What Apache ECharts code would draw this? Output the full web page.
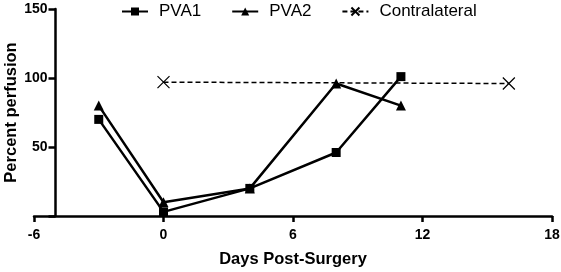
<!DOCTYPE html>
<html>
<head>
<meta charset="utf-8">
<script src="https://cdn.jsdelivr.net/npm/echarts@6/dist/echarts.min.js"></script>
<style>
html, body { margin: 0; padding: 0; background: #fff; }
#chartmain { width: 561px; height: 272px; }
</style>
</head>
<body>
<div id="chartmain"></div>
<script>
// data
var pva1 = [[-3, 70], [0, 3], [4, 20], [8, 46], [11, 101]];
var pva2 = [[-3, 80], [0, 10], [4, 20], [8, 96], [11, 80]];
var contralateral = [[0, 97], [16, 96]];
var xTicks = [-6, 0, 6, 12, 18];
var yTicks = [50, 100, 150];

var font = 'Liberation Sans, Arial, sans-serif';
var crossPath = 'path://M0,0L10,10M10,0L0,10';
var boldText = { fontWeight : 'bold', color : '#000', fontFamily : font };

var option = {
	animation : false,
	textStyle : { fontFamily : font },
	legend : {
		top : -2,
		left : 116,
		itemWidth : 26,
		itemHeight : 10,
		itemGap : 30,
		textStyle : { fontSize : 17, color : '#000', fontFamily : font, padding : [0, 0, 0, 6] },
		data : ['PVA1', 'PVA2', 'Contralateral']
	},
	// grid 0 holds the data; grid 1 only carries the visible y axis, placed at day -5
	grid : [ {
		left : 34,
		right : 9,
		top : 9,
		bottom : 56,
		outerBoundsMode : 'none'
	}, {
		left : 55.5,
		width : 20,
		top : 9,
		bottom : 56,
		outerBoundsMode : 'none'
	}],
	xAxis : [ {
		gridIndex : 0,
		type : 'value',
		min : -6,
		max : 18,
		interval : 6,
		name : 'Days Post-Surgery',
		nameLocation : 'middle',
		nameGap : 35,
		nameTextStyle : Object.assign({ fontSize : 16.5 }, boldText),
		splitLine : { show : false },
		axisLine : { onZero : false, lineStyle : { color : '#000', width : 2.5 } },
		axisTick : { show : true, length : 6, lineStyle : { color : '#000', width : 2.5 } },
		axisLabel : Object.assign({ fontSize : 14, margin : 12,
			formatter : function(v) { return xTicks.indexOf(v) >= 0 ? String(v) : ''; } }, boldText)
	}, {
		gridIndex : 1,
		type : 'value',
		show : false
	}],
	yAxis : [ {
		gridIndex : 0,
		type : 'value',
		min : 0,
		max : 150,
		show : false
	}, {
		gridIndex : 1,
		type : 'value',
		min : 0,
		max : 150,
		interval : 50,
		position : 'left',
		name : 'Percent perfusion',
		nameLocation : 'middle',
		nameGap : 30,
		nameTextStyle : Object.assign({ fontSize : 16.5 }, boldText),
		splitLine : { show : false },
		axisLine : { show : true, onZero : false, lineStyle : { color : '#000', width : 2.5 } },
		axisTick : { show : true, length : 7, lineStyle : { color : '#000', width : 2.5 } },
		axisLabel : Object.assign({ fontSize : 14, margin : 8,
			formatter : function(v) { return yTicks.indexOf(v) >= 0 ? String(v) : ''; } }, boldText)
	}],
	series : [ {
		name : 'PVA1',
		type : 'line',
		data : pva1,
		symbol : 'rect',
		symbolSize : 9,
		lineStyle : { color : '#000', width : 2.5 },
		itemStyle : { color : '#000' }
	}, {
		name : 'PVA2',
		type : 'line',
		data : pva2,
		symbol : 'triangle',
		symbolSize : 10,
		lineStyle : { color : '#000', width : 2.5 },
		itemStyle : { color : '#000' }
	}, {
		name : 'Contralateral',
		type : 'line',
		data : contralateral,
		symbol : crossPath,
		symbolSize : 12,
		lineStyle : { color : '#000', width : 1.5, type : [5, 3] },
		itemStyle : { color : 'none', borderColor : '#000', borderWidth : 1.2 }
	}]
};
var myChart = echarts.init(document.getElementById('chartmain'));
myChart.setOption(option);
</script>
</body>
</html>
